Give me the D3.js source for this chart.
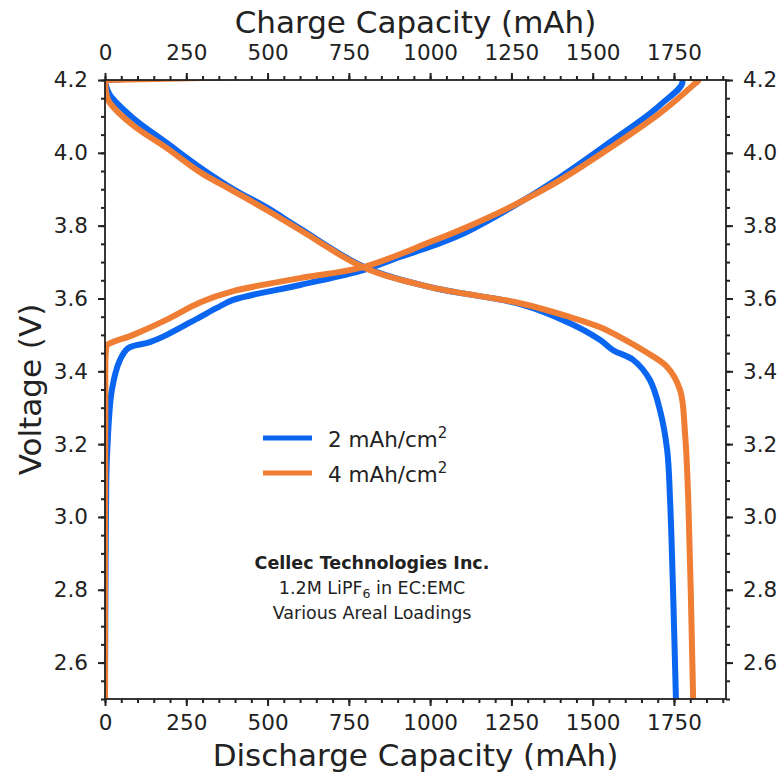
<!DOCTYPE html>
<html>
<head>
<meta charset="utf-8">
<script src="https://cdn.jsdelivr.net/npm/d3@7"></script>
<style>
  body { margin: 0; background: #fff; }
  text { font-family: "DejaVu Sans", sans-serif; fill: #222; }
</style>
</head>
<body>
<div id="chart"></div>
<script>
// capacity (mAh) / voltage (V) pairs
const dischargeBlue = [[0, 4.2], [3, 4.185], [15, 4.159], [87, 4.095], [190, 4.027], [292, 3.96],
  [395, 3.9], [497, 3.85], [600, 3.792], [794, 3.688], [1000, 3.631], [1280, 3.584], [1430, 3.532],
  [1523, 3.486], [1563, 3.458], [1625, 3.431], [1676, 3.376], [1707, 3.293], [1729, 3.184],
  [1738, 3.046], [1756, 2.5]];
const dischargeOrange = [[0, 4.2], [2, 4.175], [6, 4.155], [15, 4.137], [87, 4.075], [190, 4.013],
  [292, 3.947], [395, 3.895], [497, 3.843], [600, 3.788], [794, 3.686], [1000, 3.631],
  [1277, 3.587], [1430, 3.549], [1523, 3.521], [1584, 3.494], [1660, 3.455], [1729, 3.412],
  [1769, 3.348], [1784, 3.23], [1794, 3.046], [1809, 2.5]];
const chargeBlue = [[0, 2.5], [2, 2.9], [4, 3.1], [7, 3.184], [21, 3.348], [46, 3.431], [72, 3.464],
  [138, 3.48], [190, 3.5], [292, 3.549], [344, 3.574], [394, 3.596], [600, 3.637], [794, 3.678],
  [907, 3.714], [1000, 3.742], [1092, 3.774], [1246, 3.848], [1400, 3.933], [1553, 4.029],
  [1707, 4.131], [1775, 4.2], [0, 4.2]];
const chargeOrange = [[0, 2.5], [1, 3.3], [3, 3.458], [7, 3.472], [87, 3.5], [190, 3.542],
  [292, 3.589], [394, 3.62], [600, 3.656], [794, 3.686], [1000, 3.755], [1092, 3.788],
  [1246, 3.851], [1400, 3.925], [1553, 4.013], [1707, 4.109], [1809, 4.186], [1825, 4.2], [0, 4.2]];
const seriesNames = ["2 mAh/cm", "4 mAh/cm"];
const seriesColors = ["#0a66f0", "#ef7d33"];
const xTicks = [0, 250, 500, 750, 1000, 1250, 1500, 1750];
const yTicks = [2.6, 2.8, 3.0, 3.2, 3.4, 3.6, 3.8, 4.0, 4.2];
const noteLines = ["Cellec Technologies Inc.", "1.2M LiPF", "Various Areal Loadings"];

const width = 781, height = 777;
const margin = {top: 80, right: 55, bottom: 78, left: 105};

const svg = d3.select("#chart").append("svg")
  .attr("width", width)
  .attr("height", height);

const x = d3.scaleLinear().domain([0, 1910]).range([margin.left, width - margin.right]);
const y = d3.scaleLinear().domain([2.5, 4.2]).range([height - margin.bottom, margin.top]);

svg.append("clipPath").attr("id", "plot-clip")
  .append("rect")
  .attr("x", x(0)).attr("y", y(4.2))
  .attr("width", x(1910) - x(0)).attr("height", y(2.5) - y(4.2));

const line = d3.line()
  .x(d => x(d[0]))
  .y(d => y(d[1]))
  .curve(d3.curveCatmullRom);

const plot = svg.append("g").attr("clip-path", "url(#plot-clip)");
const curves = [
  [dischargeBlue, 0], [chargeBlue, 0],
  [dischargeOrange, 1], [chargeOrange, 1]
];
curves.forEach(([data, i]) => {
  plot.append("path")
    .datum(data)
    .attr("d", line)
    .attr("fill", "none")
    .attr("stroke", seriesColors[i])
    .attr("stroke-width", 6)
    .attr("stroke-linejoin", "round")
    .attr("stroke-linecap", "round");
});

// axes
const minorX = d3.range(0, 1910, 50);
const minorY = d3.range(2.5, 4.2001, 0.05);
function styleAxis(g) {
  g.select(".domain").remove();
  g.selectAll("line").attr("stroke", "#222").attr("stroke-width", 2);
  g.selectAll("text").style("font-size", "21.5px").attr("fill", "#222");
}
function minor(g) {
  g.select(".domain").remove();
  g.selectAll("line").attr("stroke", "#222").attr("stroke-width", 2);
}

svg.append("g").attr("transform", `translate(0,${y(2.5)})`)
  .call(d3.axisBottom(x).tickValues(minorX).tickSize(4).tickFormat("")).call(minor);
svg.append("g").attr("transform", `translate(0,${y(2.5)})`)
  .call(d3.axisBottom(x).tickValues(xTicks).tickSize(7).tickPadding(9).tickFormat(d3.format("d")))
  .call(styleAxis);
svg.append("g").attr("transform", `translate(0,${y(4.2)})`)
  .call(d3.axisTop(x).tickValues(minorX).tickSize(4).tickFormat("")).call(minor);
svg.append("g").attr("transform", `translate(0,${y(4.2)})`)
  .call(d3.axisTop(x).tickValues(xTicks).tickSize(7).tickPadding(13).tickFormat(d3.format("d")))
  .call(styleAxis);
svg.append("g").attr("transform", `translate(${x(0)},0)`)
  .call(d3.axisLeft(y).tickValues(minorY).tickSize(4).tickFormat("")).call(minor);
svg.append("g").attr("transform", `translate(${x(0)},0)`)
  .call(d3.axisLeft(y).tickValues(yTicks).tickSize(7).tickPadding(10).tickFormat(d3.format(".1f")))
  .call(styleAxis);
svg.append("g").attr("transform", `translate(${x(1910)},0)`)
  .call(d3.axisRight(y).tickValues(minorY).tickSize(4).tickFormat("")).call(minor);
svg.append("g").attr("transform", `translate(${x(1910)},0)`)
  .call(d3.axisRight(y).tickValues(yTicks).tickSize(7).tickPadding(10).tickFormat(d3.format(".1f")))
  .call(styleAxis);

// frame
svg.append("rect")
  .attr("x", x(0)).attr("y", y(4.2))
  .attr("width", x(1910) - x(0)).attr("height", y(2.5) - y(4.2))
  .attr("fill", "none").attr("stroke", "#222").attr("stroke-width", 1.8);

// axis titles
svg.append("text").attr("x", (x(0) + x(1910)) / 2).attr("y", 33)
  .attr("text-anchor", "middle").style("font-size", "31px").text("Charge Capacity (mAh)");
svg.append("text").attr("x", (x(0) + x(1910)) / 2).attr("y", 766)
  .attr("text-anchor", "middle").style("font-size", "31px").text("Discharge Capacity (mAh)");
svg.append("text").attr("transform", `translate(41,${(y(2.5) + y(4.2)) / 2}) rotate(-90)`)
  .attr("text-anchor", "middle").style("font-size", "31px").text("Voltage (V)");

// legend
const legend = svg.append("g");
seriesNames.forEach((name, i) => {
  const ly = 438 + i * 35;
  legend.append("line")
    .attr("x1", 263).attr("x2", 312).attr("y1", ly).attr("y2", ly)
    .attr("stroke", seriesColors[i]).attr("stroke-width", 5);
  const t = legend.append("text").attr("x", 328).attr("y", ly + 9).style("font-size", "21.5px");
  t.append("tspan").text(name);
  t.append("tspan").attr("dy", -9).style("font-size", "15px").text("2");
});

// note
const note = svg.append("g").attr("text-anchor", "middle");
note.append("text").attr("x", 372).attr("y", 569)
  .style("font-size", "17.5px").style("font-weight", "bold").text(noteLines[0]);
const n2 = note.append("text").attr("x", 372).attr("y", 594).style("font-size", "17.5px");
n2.append("tspan").text(noteLines[1]);
n2.append("tspan").attr("dy", 4).style("font-size", "12.5px").text("6");
n2.append("tspan").attr("dy", -4).text(" in EC:EMC");
note.append("text").attr("x", 372).attr("y", 619)
  .style("font-size", "17.5px").text(noteLines[2]);
</script>
</body>
</html>
